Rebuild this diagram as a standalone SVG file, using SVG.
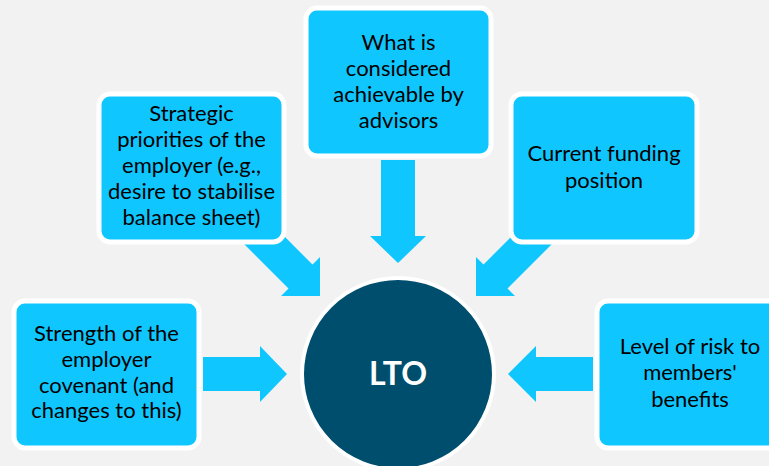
<svg xmlns="http://www.w3.org/2000/svg" width="769" height="466" viewBox="0 0 769 466">
  <style>
    .box { fill: #0FC7FE; stroke: #FFFFFF; stroke-width: 5; }
    .arrow { fill: #0FC7FE; }
    .label { font-family: Lato, "Open Sans", "Liberation Sans", sans-serif; font-size: 22px; fill: #000000; text-anchor: middle; }
    .hub { fill: #004E6D; stroke: #FFFFFF; stroke-width: 4; }
    .hub-label { font-family: Lato, "Liberation Sans", sans-serif; font-size: 32px; font-weight: bold; fill: #FFFFFF; text-anchor: middle; }
  </style>
  <rect width="769" height="466" fill="#F2F2F2"/>

  <!-- block arrows pointing to the hub -->
  <g id="connectors">
    <polygon class="arrow" points="381,160 415,160 415,236 426,236 398,263 370,236 381,236"/>
    <polygon class="arrow" points="234.8,234.8 288.5,288.5 281,296 320,296 320,257 312.5,264.5 258.8,210.8"/>
    <polygon class="arrow" points="561.2,234.8 507.5,288.5 515,296 476,296 476,257 483.5,264.5 537.2,210.8"/>
    <polygon class="arrow" points="203,357 260,357 260,346 287,374 260,402 260,391 203,391"/>
    <polygon class="arrow" points="593,357 536,357 536,346 508,374 536,402 536,391 593,391"/>
  </g>

  <g id="achievable">
    <rect class="box" x="306" y="8" width="185" height="148" rx="11"/>
    <text class="label" x="398.5" y="50">What is</text>
    <text class="label" x="398.5" y="76">considered</text>
    <text class="label" x="398.5" y="102">achievable by</text>
    <text class="label" x="398.5" y="128">advisors</text>
  </g>

  <g id="strategic">
    <rect class="box" x="99" y="94" width="185" height="148" rx="11"/>
    <text class="label" x="191.5" y="121">Strategic</text>
    <text class="label" x="191.5" y="147">priorities of the</text>
    <text class="label" x="191.5" y="173">employer (e.g.,</text>
    <text class="label" x="191.5" y="199">desire to stabilise</text>
    <text class="label" x="191.5" y="225">balance sheet)</text>
  </g>

  <g id="funding">
    <rect class="box" x="511" y="94" width="186" height="148" rx="11"/>
    <text class="label" x="604" y="161">Current funding</text>
    <text class="label" x="604" y="188">position</text>
  </g>

  <g id="covenant">
    <rect class="box" x="14" y="301" width="185" height="147" rx="11"/>
    <text class="label" x="106.5" y="341">Strength of the</text>
    <text class="label" x="106.5" y="367">employer</text>
    <text class="label" x="106.5" y="393">covenant (and</text>
    <text class="label" x="106.5" y="418">changes to this)</text>
  </g>

  <g id="risk">
    <rect class="box" x="597" y="301" width="186" height="147" rx="11"/>
    <text class="label" x="690" y="354">Level of risk to</text>
    <text class="label" x="690" y="380">members'</text>
    <text class="label" x="690" y="407">benefits</text>
  </g>

  <g id="lto">
    <circle class="hub" cx="398" cy="374" r="96"/>
    <text class="hub-label" x="398" y="385">LTO</text>
  </g>
</svg>
